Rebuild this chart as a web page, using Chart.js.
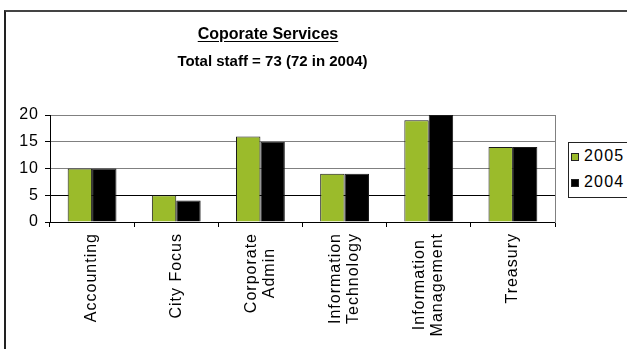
<!DOCTYPE html>
<html>
<head>
<meta charset="utf-8">
<script src="https://cdn.jsdelivr.net/npm/chart.js@4"></script>
<style>
  body { margin: 0; background: #fff; font-family: "Liberation Sans", Arial, sans-serif; }
  #wrap { position: relative; width: 627px; height: 349px; overflow: hidden; }
  #frame { position: absolute; left: 4px; top: 10px; width: 700px; height: 400px; border-left: 2px solid #222; border-top: 2px solid #444; }
  #chart { position: absolute; left: 0; top: 0; }
  .title { position: absolute; left: 0; font-weight: bold; text-align: center; white-space: nowrap; color: #000; }
  #t1 { top: 26px; width: 536px; font-size: 16px; line-height: 16px; text-decoration: underline; text-underline-offset: 2px; }
  #t2 { top: 53px; width: 545px; font-size: 15px; line-height: 15px; }
  #legend { position: absolute; left: 568px; top: 142px; width: 90px; height: 54px; border: 1px solid #222; background: #fff; font-size: 16px; letter-spacing: 1.2px; }
  .item { position: absolute; left: 0; height: 18px; line-height: 18px; white-space: nowrap; }
  .swatch { position: absolute; left: 2px; top: 6px; width: 6px; height: 6px; border: 1px solid #222; }
  .item span { position: absolute; left: 15px; top: 0; }
</style>
</head>
<body>
<div id="wrap">
  <div id="frame"></div>
  <canvas id="chart" width="627" height="349" style="width:627px;height:349px"></canvas>
  <div class="title" id="t1">Coporate Services</div>
  <div class="title" id="t2">Total staff = 73 (72 in 2004)</div>
  <div id="legend"></div>
</div>
<script>
(function(){
  'use strict';

  const categories = ['Accounting', 'City Focus', ['Corporate', 'Admin'], ['Information', 'Technology'], ['Information', 'Management'], 'Treasury'];
  const seriesNames = ['2005', '2004'];
  const staff2005 = [10, 5, 16, 9, 19, 14];
  const staff2004 = [10, 4, 15, 9, 20, 14];
  const seriesValues = [staff2005, staff2004];
  const seriesColors = ['#9bbb2b', '#000000'];
  const yMin = 0;
  const yMax = 20;
  const yStep = 5;

  const fontFamily = '"Liberation Sans", Arial, sans-serif';
  const labelSpacing = '1px';

  // wide letter spacing for the axis text, and centred two-line category labels
  const axisText = {
    id: 'axisText',
    beforeDraw(chart){
      const ctx = chart.ctx;
      ctx.letterSpacing = labelSpacing;
      chart.scales.x.getLabelItems().forEach(item => {
        if (!Array.isArray(item.label) || item.centred) return;
        ctx.save();
        ctx.font = item.font.string;
        const widest = Math.max(...item.label.map(s => ctx.measureText(s).width));
        ctx.restore();
        item.options.textAlign = 'center';
        item.options.translation[0] -= (item.label.length - 1) * item.font.lineHeight / 2;
        item.options.translation[1] += widest / 2;
        item.centred = true;
      });
    },
    afterDraw(chart){
      chart.ctx.letterSpacing = '0px';
    }
  };

  const chart = new Chart(document.getElementById('chart'), {
    type: 'bar',
    data: {
      labels: categories,
      datasets: seriesNames.map((name, i) => ({
        label: name,
        data: seriesValues[i],
        backgroundColor: seriesColors[i],
        borderColor: '#1a1a1a',
        borderWidth: 1
      }))
    },
    options: {
      responsive: false,
      animation: false,
      layout: { padding: { top: 115, right: 72, left: 0, bottom: 0 } },
      datasets: { bar: { categoryPercentage: 0.58, barPercentage: 1 } },
      plugins: {
        legend: { display: false },
        title: { display: false },
        tooltip: { enabled: false }
      },
      scales: {
        x: {
          grid: { drawOnChartArea: false, color: '#000', tickLength: 5, offset: true },
          border: { color: '#000' },
          ticks: {
            font: { family: fontFamily, size: 16, lineHeight: 1.125 },
            color: '#000',
            minRotation: 90,
            maxRotation: 90,
            autoSkip: false,
            padding: 6
          },
          afterFit: s => { s.height = 127; }
        },
        y: {
          min: yMin,
          max: yMax,
          ticks: { stepSize: yStep, font: { family: fontFamily, size: 16 }, color: '#000', padding: 6 },
          grid: {
            color: c => (c.tick && c.tick.value === 5) ? '#000' : '#808080',
            tickColor: '#000',
            tickLength: 5
          },
          border: { color: '#000' },
          afterFit: s => { s.width = 50; }
        },
        y2: {
          position: 'right',
          grid: { display: false },
          ticks: { display: false },
          border: { color: '#808080' },
          afterFit: s => { s.width = 0; }
        }
      }
    },
    plugins: [axisText]
  });

  // legend box built from the datasets
  const legend = document.getElementById('legend');
  chart.data.datasets.forEach((ds, i) => {
    const row = document.createElement('div');
    row.className = 'item';
    row.style.top = (3.5 + i * 26) + 'px';
    const sw = document.createElement('div');
    sw.className = 'swatch';
    sw.style.background = ds.backgroundColor;
    const txt = document.createElement('span');
    txt.textContent = ds.label;
    row.append(sw, txt);
    legend.append(row);
  });
})();
</script>
</body>
</html>
